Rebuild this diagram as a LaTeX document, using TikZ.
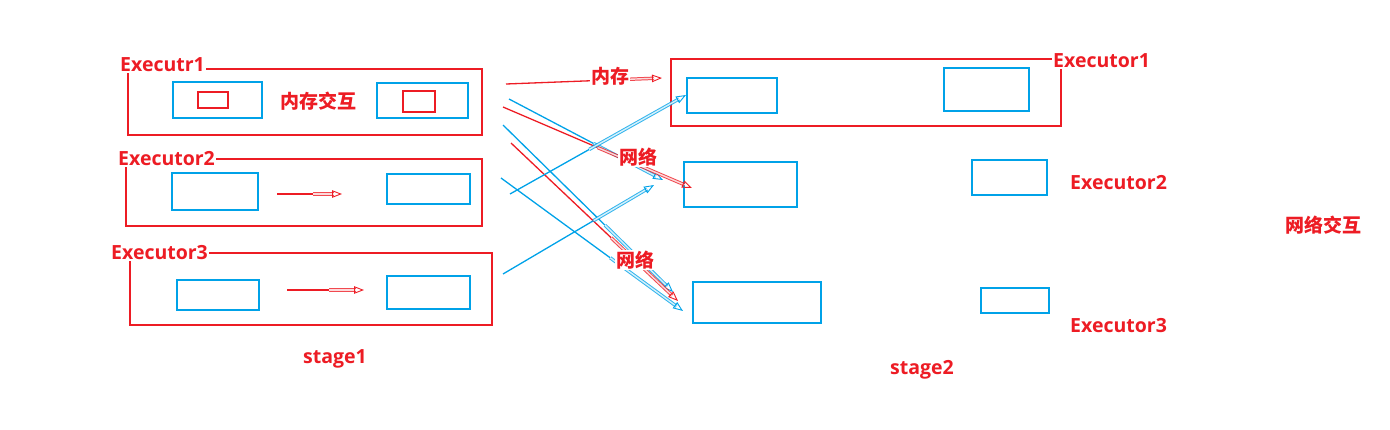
\documentclass[tikz,border=0pt]{standalone}
\usepackage{fontspec}
\setmainfont{Open Sans}[BoldFont={* Bold}]
\newfontfamily\cjk{Noto Sans CJK SC}
\usetikzlibrary{arrows.meta,calc}
\definecolor{pred}{HTML}{ED1C24}
\definecolor{pblue}{HTML}{00A2E8}
\newcommand\pbox[6]{\node[#2, anchor=north west, minimum width=#5-#3, minimum height=#6-#4] (#1) at (#3,#4) {};}
\newcommand\parr[4]{%
  \draw[#1, thinarr] (#2) -- ($(#2)!#4!(#3)$);
  \draw[#1, dblarr, shorten >=8pt] ($(#2)!#4!(#3)$) -- (#3);
  \draw[#1, tiparr] ($(#3)!10pt!(#2)$) -- (#3);}
\begin{document}
\begin{tikzpicture}[x=1pt,y=-1pt,
  rbox/.style={draw=pred, line width=2pt, inner sep=0pt, outer sep=0pt},
  bbox/.style={draw=pblue, line width=2pt, inner sep=0pt, outer sep=0pt},
  thinarr/.style={line width=1.3pt},
  dblarr/.style={draw opacity=0.8, double, double distance=1.4pt, line width=1pt},
  tiparr/.style={line width=0.9pt, -{Triangle[open,length=10pt,width=7.5pt]}},
  lbl/.style={text=pred, font=\bfseries\fontsize{19.5}{19.5}\selectfont, fill=white, inner sep=1pt},
  clbl/.style={lbl, font=\cjk\bfseries\fontsize{19}{19}\selectfont}]
\useasboundingbox (0,0) rectangle (1390,429);
% stage 1
\pbox{e1}{rbox}{128}{69}{482}{135}
\pbox{e1a}{bbox}{173}{82}{262}{118}
\pbox{e1ar}{rbox}{198}{92}{228}{108}
\pbox{e1b}{bbox}{377}{83}{468}{118}
\pbox{e1br}{rbox}{403}{91}{435}{112}
\pbox{e2}{rbox}{126}{159}{482}{226}
\pbox{e2a}{bbox}{172}{173}{258}{210}
\pbox{e2b}{bbox}{387}{174}{470}{204}
\pbox{e3}{rbox}{130}{253}{492}{325}
\pbox{e3a}{bbox}{177}{280}{259}{310}
\pbox{e3b}{bbox}{387}{276}{470}{309}
% stage 2
\pbox{f1}{rbox}{671}{59}{1061}{126}
\pbox{f1a}{bbox}{687}{78}{777}{113}
\pbox{f1b}{bbox}{944}{68}{1029}{111}
\pbox{f2a}{bbox}{684}{162}{797}{207}
\pbox{f2b}{bbox}{972}{160}{1047}{195}
\pbox{f3a}{bbox}{693}{282}{821}{323}
\pbox{f3b}{bbox}{981}{288}{1049}{313}
% inner arrows
\coordinate (i2s) at (277,194); \coordinate (i2t) at (342,194);
\coordinate (i3s) at (287,290); \coordinate (i3t) at (364,290);
\parr{pred}{i2s}{i2t}{0.55}
\parr{pred}{i3s}{i3t}{0.55}
% cross arrows
\coordinate (s1) at (506,84);  \coordinate (t1) at (662,78);
\coordinate (s2) at (509,99);  \coordinate (t2) at (663,180);
\coordinate (s3) at (503,107); \coordinate (t3) at (692,188);
\coordinate (s4) at (503,125); \coordinate (t4) at (673,292);
\coordinate (s5) at (511,143); \coordinate (t5) at (678,301);
\coordinate (s6) at (501,178); \coordinate (t6) at (683,311);
\coordinate (s7) at (510,194); \coordinate (t7) at (686,95);
\coordinate (s8) at (503,274); \coordinate (t8) at (654,185);
\parr{pred}{s1}{t1}{0.65}
\parr{pblue}{s2}{t2}{0.55}
\parr{pred}{s3}{t3}{0.5}
\parr{pblue}{s4}{t4}{0.6}
\parr{pred}{s5}{t5}{0.6}
\parr{pblue}{s6}{t6}{0.6}
\parr{pblue}{s7}{t7}{0.45}
\parr{pblue}{s8}{t8}{0.6}
% labels
\node[lbl, anchor=west] (l1) at (119,65) {Executr1};
\node[lbl, anchor=west] (l2) at (117,159) {Executor2};
\node[lbl, anchor=west] (l3) at (110,253) {Executor3};
\node[clbl] (m1) at (318,101) {内存交互};
\node[lbl] (st1) at (335,359) {stage1};
\node[clbl] (m2) at (610,76) {内存};
\node[clbl] (n1) at (638,157) {网络};
\node[clbl] (n2) at (635,260) {网络};
\node[lbl, anchor=west] (r1) at (1052,61) {Executor1};
\node[lbl, anchor=west] (r2) at (1069,183) {Executor2};
\node[lbl, anchor=west] (r3) at (1069,326) {Executor3};
\node[lbl] (st2) at (922,370) {stage2};
\node[clbl] (nx) at (1323,225) {网络交互};
\end{tikzpicture}
\end{document}
